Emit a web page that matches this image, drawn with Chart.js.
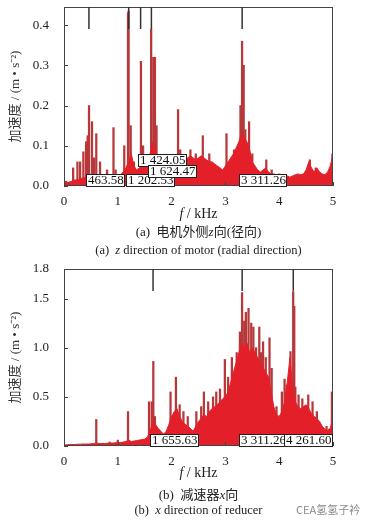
<!DOCTYPE html>
<html>
<head>
<meta charset="utf-8">
<script src="https://cdn.jsdelivr.net/npm/chart.js@4.4.0/dist/chart.umd.min.js"></script>
<style>
	body{margin:0;background:#fff;width:368px;height:524px;position:relative;overflow:hidden;font-family:"Liberation Serif","Noto Sans CJK SC",serif;color:#222;}
	.caja{position:absolute;left:0;width:368px;height:210px;}
	.txt{position:absolute;left:0;width:397px;text-align:center;font-size:13px;line-height:16px;white-space:nowrap;}
	.marca{position:absolute;left:296px;top:501px;font-family:"Noto Sans CJK SC",sans-serif;font-size:11px;color:#8a8a8a;}
</style>
</head>
<body>
<div class="caja" style="top:0"><canvas id="graficoA"></canvas></div>
<div class="caja" style="top:260px"><canvas id="graficoB"></canvas></div>

<div class="txt" style="top:206px;font-size:14px"><i>f</i> / kHz</div>
<div class="txt" style="top:224px">(a)&nbsp;&nbsp;电机外侧<i>z</i>向(径向)</div>
<div class="txt" style="top:242px;font-size:12.5px">(a)&nbsp;&nbsp;<i>z</i> direction of motor (radial direction)</div>
<div class="txt" style="top:465px;font-size:14px"><i>f</i> / kHz</div>
<div class="txt" style="top:487px">(b)&nbsp;&nbsp;减速器<i>x</i>向</div>
<div class="txt" style="top:502px;font-size:12.5px">(b)&nbsp;&nbsp;<i>x</i> direction of reducer</div>
<div class="marca">CEA氢氢子衿</div>

<script>
// eje de frecuencia (kHz)
const frecuencias = [0,0.05,0.1,0.15,0.2,0.25,0.3,0.35,0.4,0.45,0.5,0.55,0.6,0.65,0.7,0.75,0.8,0.85,0.9,0.95,
	1,1.05,1.1,1.15,1.2,1.25,1.3,1.35,1.4,1.45,1.5,1.55,1.6,1.65,1.7,1.75,1.8,1.85,1.9,1.95,
	2,2.05,2.1,2.15,2.2,2.25,2.3,2.35,2.4,2.45,2.5,2.55,2.6,2.65,2.7,2.75,2.8,2.85,2.9,2.95,
	3,3.05,3.1,3.15,3.2,3.25,3.3,3.35,3.4,3.45,3.5,3.55,3.6,3.65,3.7,3.75,3.8,3.85,3.9,3.95,
	4,4.05,4.1,4.15,4.2,4.25,4.3,4.35,4.4,4.45,4.5,4.55,4.6,4.65,4.7,4.75,4.8,4.85,4.9,4.95,5];

// (a) motor, fondo del espectro
const fondoA = [0.005,0.008,0.010,0.012,0.015,0.015,0.018,0.020,0.022,0.025,0.025,0.022,0.025,0.022,0.020,0.018,0.020,0.018,0.022,0.020,
	0.025,0.028,0.035,0.045,0.060,0.080,0.050,0.040,0.045,0.050,0.055,0.060,0.080,0.110,0.090,0.060,0.050,0.045,0.040,0.045,
	0.050,0.060,0.070,0.080,0.070,0.065,0.070,0.075,0.070,0.065,0.070,0.075,0.070,0.065,0.060,0.060,0.055,0.050,0.045,0.040,
	0.050,0.060,0.070,0.080,0.095,0.110,0.130,0.120,0.110,0.090,0.060,0.050,0.040,0.035,0.040,0.045,0.035,0.030,0.030,0.028,
	0.030,0.028,0.025,0.025,0.022,0.025,0.028,0.030,0.028,0.030,0.040,0.060,0.045,0.035,0.045,0.035,0.030,0.028,0.035,0.050,0.080];

// (a) picos
const picoFA = [0.04,0.17,0.25,0.30,0.36,0.41,0.44,0.465,0.52,0.56,0.60,0.67,0.80,0.92,0.96,1.12,1.19,1.20,1.24,1.30,
	1.43,1.47,1.62,1.66,1.69,1.72,1.80,2.12,2.16,2.35,2.45,2.58,2.70,3.02,3.16,3.28,3.31,3.34,3.37,3.44,3.50,3.76,3.86,4.57,4.68,4.99];
const picoVA = [0.012,0.045,0.06,0.06,0.085,0.11,0.125,0.20,0.16,0.07,0.13,0.06,0.04,0.145,0.04,0.10,0.43,0.435,0.15,0.06,
	0.31,0.10,0.39,0.32,0.32,0.15,0.07,0.19,0.09,0.09,0.08,0.125,0.08,0.13,0.09,0.20,0.36,0.30,0.14,0.16,0.08,0.065,0.04,0.065,0.045,0.08];

// (b) reductor, fondo del espectro
const fondoB = [0.010,0.012,0.015,0.015,0.015,0.018,0.018,0.020,0.020,0.020,0.022,0.025,0.030,0.025,0.025,0.025,0.028,0.030,0.030,0.032,
	0.035,0.035,0.040,0.045,0.060,0.045,0.050,0.055,0.060,0.065,0.070,0.090,0.150,0.250,0.220,0.180,0.150,0.120,0.150,0.220,
	0.300,0.350,0.380,0.300,0.250,0.220,0.200,0.180,0.150,0.200,0.250,0.280,0.320,0.300,0.350,0.380,0.400,0.420,0.450,0.480,
	0.500,0.550,0.650,0.750,0.850,0.950,1.050,1.000,1.050,0.950,1.000,0.950,0.900,0.850,0.800,0.750,0.700,0.550,0.400,0.320,
	0.300,0.350,0.450,0.650,0.900,0.600,0.450,0.400,0.380,0.400,0.420,0.380,0.330,0.300,0.280,0.250,0.200,0.170,0.160,0.180,0.300];

// (b) picos
const picoFB = [0.60,0.85,1.00,1.19,1.58,1.63,1.66,1.69,1.98,2.08,2.15,2.22,2.30,2.46,2.55,2.60,2.68,2.77,2.83,2.90,
	2.99,3.05,3.12,3.21,3.27,3.31,3.35,3.38,3.43,3.48,3.52,3.57,3.63,3.66,3.70,3.75,3.82,3.86,3.95,4.05,
	4.10,4.14,4.21,4.26,4.28,4.30,4.36,4.43,4.54,4.62,4.70,4.88,4.98];
const picoVB = [0.27,0.04,0.06,0.35,0.45,0.45,0.86,0.30,0.55,0.70,0.42,0.35,0.30,0.35,0.40,0.55,0.45,0.50,0.55,0.58,
	0.88,0.70,0.90,0.95,1.16,1.56,1.27,1.36,1.40,1.25,1.21,1.00,1.21,0.95,1.06,0.90,1.10,0.79,0.40,0.55,
	0.68,0.62,0.96,1.57,1.42,0.60,0.52,0.48,0.52,0.45,0.35,0.20,0.55];

// cursores y etiquetas
const cursorA = [0.46358,1.20253,1.42405,1.62447,3.31126];
const etiquetaA = ['463.58','1 202.53','1 424.05','1 624.47','3 311.26'];
const cursorB = [1.65563,3.31126,4.26160];
const etiquetaB = ['1 655.63','3 311.26','4 261.60'];

// ticks
const ticksX = [0,1,2,3,4,5];
const ticksYA = [0,0.1,0.2,0.3,0.4];
const ticksYB = [0,0.5,1.0,1.5,1.8];

const fuente = '"Liberation Serif", "Noto Sans CJK SC", serif';
const rojo = '#e3202a';

function puntos(xs, ys){
	return xs.map((x, i) => ({x: x, y: ys[i]}));
}

function marcas(freqs, textos, alzas){
	return {
		id: 'marcas',
		afterDatasetsDraw(chart){
			let ctx = chart.ctx, a = chart.chartArea;
			let ex = chart.scales.x, ey = chart.scales.y;
			ctx.save();

			// ticks hacia adentro
			ctx.strokeStyle = '#444';
			ctx.lineWidth = 1;
			ctx.beginPath();
			ey.ticks.forEach(t => {
				let py = Math.round(ey.getPixelForValue(t.value)) + 0.5;
				ctx.moveTo(a.left, py); ctx.lineTo(a.left + 4, py);
			});
			ex.ticks.forEach(t => {
				let px = Math.round(ex.getPixelForValue(t.value)) + 0.5;
				ctx.moveTo(px, a.bottom); ctx.lineTo(px, a.bottom - 4);
			});
			ctx.stroke();

			// marco
			ctx.strokeRect(a.left + 0.5, a.top + 0.5, a.right - a.left - 1, a.bottom - a.top - 1);

			// cursores arriba
			ctx.strokeStyle = '#333';
			ctx.lineWidth = 1.5;
			ctx.beginPath();
			freqs.forEach(f => {
				let px = ex.getPixelForValue(f);
				ctx.moveTo(px, a.top); ctx.lineTo(px, a.top + 22);
			});
			ctx.stroke();

			// cajas con la frecuencia
			ctx.font = '13px ' + fuente;
			ctx.textBaseline = 'middle';
			ctx.lineWidth = 1;
			textos.forEach((t, i) => {
				let w = Math.round(ctx.measureText(t).width) + 3;
				let bx = Math.round(ex.getPixelForValue(freqs[i])) - 3;
				if (bx + w > a.right) bx = Math.round(a.right) - w;
				let by = Math.round(a.bottom) + 1 - 13 - alzas[i];
				ctx.fillStyle = '#fff';
				ctx.fillRect(bx, by, w, 13);
				ctx.strokeStyle = '#222';
				ctx.strokeRect(bx + 0.5, by + 0.5, w - 1, 12);
				ctx.fillStyle = '#111';
				ctx.fillText(t, bx + 2, by + 7);
			});
			ctx.restore();
		}
	}
}

function grafico(id, fondo, picoF, picoV, maxY, ticksY, padTop, plugin){
	let ctx = document.getElementById(id).getContext('2d');
	return new Chart(ctx, {
		type: 'bar',
		data: {
			datasets: [{
				type: 'line',
				data: puntos(frecuencias, fondo),
				borderColor: rojo,
				backgroundColor: rojo,
				borderWidth: 1,
				pointRadius: 0,
				tension: 0,
				fill: 'origin',
				order: 1
			},
			{
				type: 'bar',
				data: puntos(picoF, picoV),
				backgroundColor: '#b8383a',
				barThickness: 1.6,
				grouped: false,
				order: 2
			}]
		},
		options: {
			responsive: true,
			maintainAspectRatio: false,
			animation: false,
			layout: {padding: {left: 0, top: padTop, right: 35, bottom: 0}},
			plugins: {
				legend: {display: false},
				tooltip: {enabled: false}
			},
			scales: {
				x: {
					type: 'linear',
					offset: false,
					min: 0,
					max: 5,
					grid: {display: false, offset: false},
					border: {display: false},
					afterBuildTicks(s){ s.ticks = ticksX.map(v => ({value: v})); },
					afterFit(s){ s.height = 24; },
					ticks: {
						color: '#222',
						padding: 0,
						font: {family: fuente, size: 13},
						callback: v => String(v)
					}
				},
				y: {
					min: 0,
					max: maxY,
					grid: {display: false},
					border: {display: false},
					afterBuildTicks(s){ s.ticks = ticksY.map(v => ({value: v})); },
					afterFit(s){ s.width = 64; s.paddingTop = 0; s.paddingBottom = 0; },
					ticks: {
						color: '#222',
						padding: 7,
						font: {family: fuente, size: 13},
						callback: v => v.toFixed(1)
					},
					title: {
						display: true,
						text: '加速度 / (m • s⁻²)',
						color: '#333',
						font: {family: fuente, size: 13},
						padding: {top: 8, bottom: 0}
					}
				}
			}
		},
		plugins: [plugin]
	});
}

grafico('graficoA', fondoA, picoFA, picoVA, 0.445, ticksYA, 7, marcas(cursorA, etiquetaA, [0, 0, 20, 9, 0]));
grafico('graficoB', fondoB, picoFB, picoVB, 1.8, ticksYB, 9, marcas(cursorB, etiquetaB, [0, 0, 0]));
</script>
</body>
</html>
